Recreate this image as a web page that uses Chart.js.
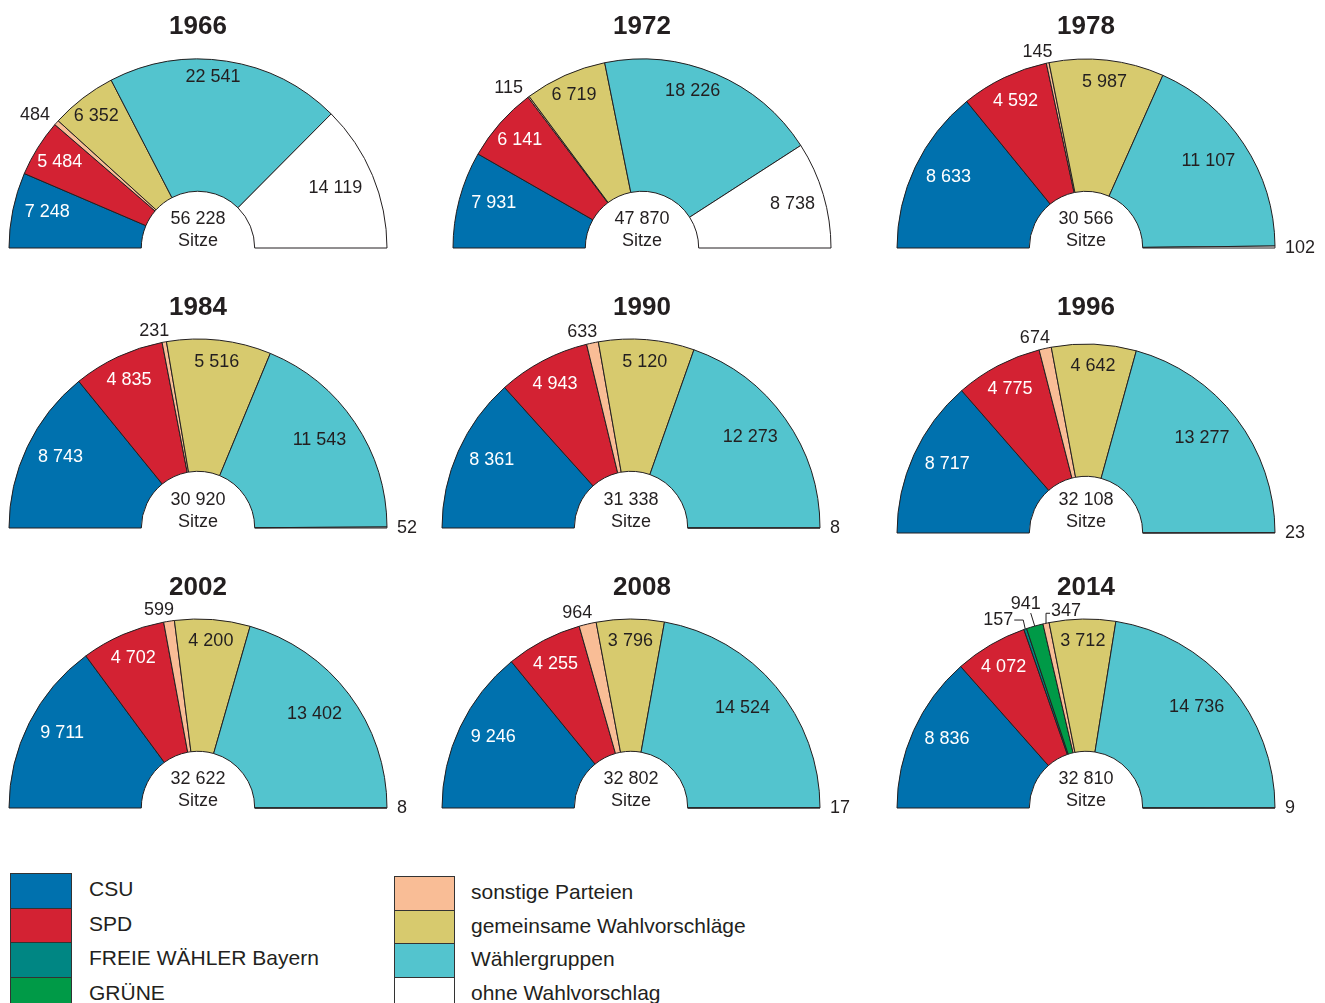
<!DOCTYPE html>
<html><head><meta charset="utf-8">
<script src="https://cdn.jsdelivr.net/npm/chart.js@4.4.1/dist/chart.umd.min.js"></script>
<style>
html,body{margin:0;padding:0;background:#fff;overflow:hidden;width:1325px;height:1003px;}
body{position:relative;font-family:"Liberation Sans",Arial,Helvetica,sans-serif;}
canvas{position:absolute;}
.sw{position:absolute;box-sizing:border-box;border:1px solid #333;}
.lt{position:absolute;font-size:21px;color:#231f20;line-height:21px;white-space:nowrap;}
</style></head><body>
<script>
// ---------- data ----------
const years = ['1966','1972','1978','1984','1990','1996','2002','2008','2014'];
const categories = ['CSU','SPD','FREIE WÄHLER Bayern','GRÜNE','sonstige Parteien','gemeinsame Wahlvorschläge','Wählergruppen','ohne Wahlvorschlag'];
const csu            = [7248, 7931, 8633, 8743, 8361, 8717, 9711, 9246, 8836];
const spd            = [5484, 6141, 4592, 4835, 4943, 4775, 4702, 4255, 4072];
const freieWaehler   = [0, 0, 0, 0, 0, 0, 0, 0, 157];
const gruene         = [0, 0, 0, 0, 0, 0, 0, 0, 941];
const sonstige       = [484, 115, 145, 231, 633, 674, 599, 964, 347];
const gemeinsame     = [6352, 6719, 5987, 5516, 5120, 4642, 4200, 3796, 3712];
const waehlergruppen = [22541, 18226, 11107, 11543, 12273, 13277, 13402, 14524, 14736];
const ohneVorschlag  = [14119, 8738, 102, 52, 8, 23, 8, 17, 9];
const seatsWord = 'Sitze';

// ---------- styles / layout ----------
const colors = ['#0071ae','#d32233','#008683','#009a47','#f9bd96','#d7ca6e','#53c4ce','#ffffff'];
const chartCx = [198, 642, 1086, 198, 631, 1086, 198, 631, 1086];
const chartCy = [248, 248, 248, 528, 528, 533, 808, 808, 808];
const titleX  = [198, 642, 1086, 198, 642, 1086, 198, 642, 1086];
const titleY  = [27, 27, 27, 308, 308, 308, 588, 588, 588];
const centerTextY = [219, 219, 219, 500, 500, 500, 779, 779, 779];
// default inside-label placement per category: [angle shift in degrees, radius px]
const labelRule = { 0: [2, 155], 1: [0, 163], 5: [0, 167], 6: [-2, 150], 7: [0, 152] };
const labelAdjust = { '1966': { 6: [-3.7, 172], 7: [-1, 150] }, '1972': { 6: [-5, 165], 7: [0, 157] } };
const leaders2014 = {
  2: { path: [[-2,-9],[-11,-9]], text: [-12,-9,'right'] },
  3: { path: [[-4,-13]], text: [-9,-22,'center'] },
  4: { path: [[0,-10],[4,-10]], text: [5,-12,'left'] }
};
const CW = 500, CH = 290, CX0 = 250, CY0 = 255, R = 189;
const FONT = '"Liberation Sans", Arial, Helvetica, sans-serif';
const DARK = '#231f20';

function fmt(n){ return String(n).replace(/\B(?=(\d{3})+(?!\d))/g, ' '); }

const labelPlugin = {
  id: 'seatLabels',
  afterDatasetsDraw(chart, args, o) {
    const ctx = chart.ctx;
    const meta = chart.getDatasetMeta(0);
    const vals = chart.data.datasets[0].data;
    const total = vals.reduce((a,b)=>a+b,0);
    ctx.save();
    ctx.fillStyle = DARK;
    ctx.font = 'bold 26px ' + FONT;
    ctx.textAlign = 'center'; ctx.textBaseline = 'middle';
    ctx.fillText(o.title, o.titleX, o.titleY);
    ctx.font = '18px ' + FONT;
    ctx.fillText(fmt(total), o.cx, o.textY);
    ctx.fillText(seatsWord, o.cx, o.textY + 22);
    meta.data.forEach((arc, i) => {
      const v = vals[i];
      if (!v) return;
      const p = arc.getProps(['x','y','startAngle','endAngle','outerRadius','innerRadius'], true);
      const mid = (p.startAngle + p.endAngle) / 2;
      const frac = v / total;
      const fromLeft = (mid + Math.PI) * 180 / Math.PI;
      ctx.font = '18px ' + FONT;
      ctx.fillStyle = DARK;
      if (i === 7 && frac < 0.01) {
        ctx.textAlign = 'left'; ctx.textBaseline = 'middle';
        ctx.fillText(fmt(v), p.x + p.outerRadius + 10, p.y);
        return;
      }
      if (o.leaders && o.leaders[i]) {
        const L = o.leaders[i];
        const px = p.x + p.outerRadius * Math.cos(mid), py = p.y + p.outerRadius * Math.sin(mid);
        ctx.strokeStyle = DARK; ctx.lineWidth = 1;
        ctx.beginPath(); ctx.moveTo(px, py);
        L.path.forEach(q => ctx.lineTo(px + q[0], py + q[1]));
        ctx.stroke();
        ctx.textAlign = L.text[2]; ctx.textBaseline = 'middle';
        ctx.fillText(fmt(v), px + L.text[0], py + L.text[1]);
        return;
      }
      if (frac < 0.05) {
        const r = p.outerRadius + 6;
        const ax = p.x + r * Math.cos(mid), ay = p.y + r * Math.sin(mid) + 4;
        ctx.textBaseline = 'bottom';
        if (fromLeft < 65) { ctx.textAlign = 'right'; ctx.fillText(fmt(v), ax - 2, ay + 1); }
        else { ctx.textAlign = 'center'; ctx.fillText(fmt(v), ax - 9, ay); }
        return;
      }
      const rule = (o.adjust && o.adjust[i]) || labelRule[i] || [0, 160];
      const a = mid + rule[0] * Math.PI / 180;
      const r = rule[1];
      ctx.fillStyle = i < 2 ? '#ffffff' : DARK;
      ctx.textAlign = 'center'; ctx.textBaseline = 'middle';
      ctx.fillText(fmt(v), p.x + r * Math.cos(a), p.y + r * Math.sin(a));
    });
    ctx.restore();
  }
};

years.forEach((yr, k) => {
  const vals = [csu[k], spd[k], freieWaehler[k], gruene[k], sonstige[k], gemeinsame[k], waehlergruppen[k], ohneVorschlag[k]];
  const left = chartCx[k] - CX0, top = chartCy[k] - CY0;
  const cv = document.createElement('canvas');
  cv.width = CW; cv.height = CH;
  cv.style.width = CW + 'px'; cv.style.height = CH + 'px';
  cv.style.left = left + 'px'; cv.style.top = top + 'px';
  document.body.appendChild(cv);
  new Chart(cv, {
    type: 'doughnut',
    data: { labels: categories, datasets: [{
      data: vals, backgroundColor: colors, borderColor: DARK, borderWidth: 1,
      radius: R, cutout: '30%'
    }]},
    options: {
      responsive: false, animation: false, events: [],
      rotation: -90, circumference: 180, cutout: '30%', radius: R,
      layout: { padding: { top: CY0 - R, bottom: CH - CY0, left: CX0 - R, right: CW - CX0 - R } },
      plugins: {
        legend: { display: false }, tooltip: { enabled: false }, title: { display: false },
        seatLabels: {
          title: yr, titleX: titleX[k] - left, titleY: titleY[k] - top,
          cx: chartCx[k] - left, textY: centerTextY[k] - top,
          adjust: labelAdjust[yr] || null,
          leaders: yr === '2014' ? leaders2014 : null
        }
      }
    },
    plugins: [labelPlugin]
  });
});

// ---------- legend ----------
const legendCols = [
  { items: [0,1,2,3], sx: 10, sw: 62, y0: 873, h: 34.5, tx: 89 },
  { items: [4,5,6,7], sx: 394, sw: 61, y0: 876, h: 33.7, tx: 471 }
];
legendCols.forEach(col => {
  col.items.forEach((ci, j) => {
    const y = col.y0 + j * col.h;
    const s = document.createElement('div');
    s.className = 'sw';
    s.style.left = col.sx + 'px'; s.style.top = Math.round(y) + 'px';
    s.style.width = col.sw + 'px'; s.style.height = Math.round(col.h + 1) + 'px';
    s.style.background = colors[ci];
    document.body.appendChild(s);
    const t = document.createElement('div');
    t.className = 'lt';
    t.textContent = categories[ci];
    t.style.left = col.tx + 'px'; t.style.top = Math.round(y + col.h / 2 - 12) + 'px';
    document.body.appendChild(t);
  });
});
</script>
</body></html>
